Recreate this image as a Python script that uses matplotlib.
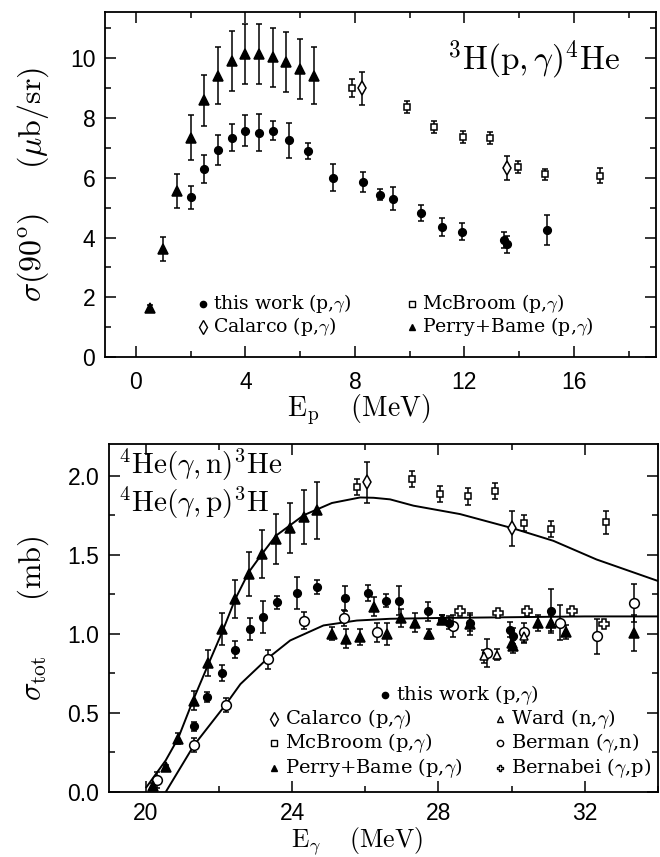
import matplotlib
matplotlib.use("Agg")
import matplotlib.pyplot as plt
from matplotlib.ticker import MultipleLocator, FormatStrFormatter

plt.rcParams['mathtext.fontset'] = 'cm'
plt.rcParams['font.family'] = 'DejaVu Serif'

# ---------------- top panel: 3H(p,g)4He, sigma(90 deg) vs Ep ----------------
tw_ep = [2.0, 2.5, 3.0, 3.5, 4.0, 4.5, 5.0, 5.6, 6.3, 7.2, 8.3, 8.9, 9.4, 10.4, 11.2, 11.9, 13.45, 13.55, 15.0]
tw_sig = [5.34, 6.29, 6.94, 7.34, 7.58, 7.5, 7.58, 7.25, 6.9, 6.0, 5.87, 5.44, 5.3, 4.82, 4.35, 4.2, 3.92, 3.77, 4.26]
tw_err = [0.4, 0.47, 0.5, 0.45, 0.52, 0.62, 0.32, 0.58, 0.26, 0.45, 0.33, 0.2, 0.38, 0.28, 0.3, 0.28, 0.28, 0.28, 0.5]

pb_ep = [0.5, 1.0, 1.5, 2.0, 2.5, 3.0, 3.5, 4.0, 4.5, 5.0, 5.5, 6.0, 6.5]
pb_sig = [1.65, 3.63, 5.56, 7.34, 8.6, 9.42, 9.92, 10.15, 10.15, 10.03, 9.87, 9.64, 9.42]
pb_err = [0.1, 0.4, 0.56, 0.75, 0.85, 0.95, 1.0, 1.0, 1.0, 1.0, 1.0, 1.0, 0.95]

mcb_ep = [7.9, 9.9, 10.9, 11.95, 12.95, 13.95, 14.95, 16.95]
mcb_sig = [9.01, 8.36, 7.7, 7.38, 7.33, 6.35, 6.11, 6.07]
mcb_err = [0.3, 0.2, 0.2, 0.2, 0.2, 0.2, 0.2, 0.25]

cal_ep = [8.25, 13.55]
cal_sig = [8.99, 6.34]
cal_err = [0.55, 0.4]

# ---------------- bottom panel: total cross section vs Egamma ----------------
tw_eg = [21.32, 21.68, 22.09, 22.45, 22.84, 23.2, 23.6, 24.14, 24.68, 25.44, 26.09, 26.57, 26.93,
         27.71, 28.09, 28.3, 28.86, 29.95, 30.05, 31.07]
tw_tot = [0.415, 0.6, 0.754, 0.9, 1.03, 1.105, 1.2, 1.26, 1.295, 1.225, 1.26, 1.21, 1.21,
          1.144, 1.09, 1.07, 1.07, 1.027, 0.985, 1.144]
tw_tot_err = [0.03, 0.03, 0.05, 0.055, 0.07, 0.1, 0.04, 0.1, 0.045, 0.08, 0.05, 0.04, 0.09,
              0.06, 0.03, 0.04, 0.05, 0.05, 0.05, 0.14]

pb_eg = [20.2, 20.55, 20.89, 21.32, 21.7, 22.09, 22.45, 22.82, 23.18, 23.56, 23.94, 24.32, 24.68,
         25.09, 25.48, 25.86, 26.23, 26.6, 26.98, 27.35, 27.75, 28.09, 28.85, 30.0, 30.05,
         30.73, 31.09, 31.48, 33.34]
pb_tot = [0.04, 0.158, 0.338, 0.578, 0.815, 1.03, 1.22, 1.38, 1.505, 1.6, 1.67, 1.74, 1.78,
          1.0, 0.97, 0.98, 1.17, 1.0, 1.1, 1.07, 1.0, 1.09, 1.06, 0.943, 0.92,
          1.07, 1.07, 1.013, 1.006]
pb_tot_err = [0.015, 0.015, 0.035, 0.058, 0.08, 0.1, 0.12, 0.14, 0.15, 0.16, 0.16, 0.17, 0.18,
              0.04, 0.06, 0.05, 0.06, 0.07, 0.06, 0.06, 0.03, 0.03, 0.07, 0.04, 0.04,
              0.05, 0.05, 0.045, 0.115]

mcb_eg = [25.77, 27.29, 28.05, 28.8, 29.56, 30.34, 31.07, 32.57]
mcb_tot = [1.926, 1.979, 1.884, 1.869, 1.905, 1.70, 1.662, 1.704]
mcb_tot_err = [0.05, 0.053, 0.05, 0.055, 0.05, 0.048, 0.052, 0.07]

cal_eg = [26.05, 30.02]
cal_tot = [1.958, 1.666]
cal_tot_err = [0.13, 0.11]

ward_eg = [29.25, 29.59, 30.35]
ward_tot = [0.858, 0.869, 0.985]
ward_tot_err = [0.04, 0.035, 0.04]

ber_eg = [20.32, 21.32, 22.2, 23.34, 24.34, 25.43, 26.32, 28.41, 29.32, 30.34, 31.32, 32.34, 33.34]
ber_tot = [0.078, 0.295, 0.55, 0.838, 1.084, 1.10, 1.01, 1.05, 0.88, 1.01, 1.07, 0.985, 1.192]
ber_tot_err = [0.05, 0.045, 0.045, 0.06, 0.055, 0.05, 0.06, 0.07, 0.09, 0.06, 0.11, 0.11, 0.12]

bnb_eg = [28.59, 29.62, 30.41, 31.64, 32.53]
bnb_tot = [1.144, 1.13, 1.144, 1.144, 1.06]

# theory curves
up_eg = [20.02, 20.55, 20.89, 21.29, 21.7, 22.09, 22.45, 22.82, 23.18, 23.56, 24.32, 25.09, 25.86,
         26.23, 26.68, 27.32, 28.59, 30.05, 31.14, 32.32, 34.0]
up_tot = [0.03, 0.2, 0.34, 0.576, 0.8, 1.01, 1.22, 1.39, 1.505, 1.62, 1.75, 1.827, 1.862,
          1.86, 1.85, 1.81, 1.757, 1.666, 1.588, 1.47, 1.334]
lo_eg = [20.55, 21.32, 22.18, 22.59, 23.32, 23.95, 24.86, 25.77, 26.68, 28.0, 30.0, 32.0, 34.0]
lo_tot = [0.0, 0.295, 0.55, 0.682, 0.842, 0.958, 1.053, 1.084, 1.095, 1.10, 1.105, 1.11, 1.11]

W = 660
H = 857
fig = plt.figure(figsize=(W / 100, H / 100), dpi=100)


def style_axes(ax, xpad=10):
    ax.tick_params(which='both', direction='in', top=True, right=True, width=1.1)
    ax.tick_params(which='major', length=8)
    ax.tick_params(which='minor', length=4.5)
    ax.tick_params(axis='x', pad=xpad)
    ax.tick_params(axis='y', pad=7)
    for lab in ax.get_xticklabels() + ax.get_yticklabels():
        lab.set_fontfamily('Liberation Sans')
        lab.set_fontsize(16.5)
    for s in ax.spines.values():
        s.set_linewidth(1.3)


def ebar(ax, x, y, e, marker, ms, filled=True, cap=2.2, lw=1.1):
    ax.errorbar(x, y, yerr=e, fmt=marker, ms=ms, color='black',
                mfc='black' if filled else 'white', mec='black', mew=1.1,
                ecolor='black', elinewidth=lw, capsize=cap, capthick=lw, zorder=3)


def legend_rows(ax, rows, dx, fs):
    for xm, ym, mk, fl, lab in rows:
        ax.plot([xm], [ym], marker=mk, ms=4.5 if mk != 'd' else 7, color='black',
                mfc='black' if fl else 'white', mew=1, transform=ax.transAxes)
        ax.text(xm + dx, ym, lab, transform=ax.transAxes, ha='left', va='center',
                fontsize=fs)


# ---- top ----
ax1 = fig.add_axes([105 / W, 1 - 357 / H, 551 / W, 345 / H])
ax1.set_xlim(-1.13, 19.0)
ax1.set_ylim(0, 11.55)
ax1.xaxis.set_major_locator(MultipleLocator(4))
ax1.xaxis.set_minor_locator(MultipleLocator(2))
ax1.yaxis.set_major_locator(MultipleLocator(2))
ax1.yaxis.set_minor_locator(MultipleLocator(1))

ebar(ax1, pb_ep, pb_sig, pb_err, '^', 6.5)
ebar(ax1, tw_ep, tw_sig, tw_err, 'o', 5.5)
ebar(ax1, mcb_ep, mcb_sig, mcb_err, 's', 5, filled=False)
ebar(ax1, cal_ep, cal_sig, cal_err, 'd', 7, filled=False)
style_axes(ax1)

ax1.text(0.935, 0.862, r'$^3{\rm H}({\rm p},\gamma)^4{\rm He}$', transform=ax1.transAxes,
         ha='right', va='center', fontsize=24)
ax1.set_ylabel(r'$\sigma(90^{\rm o})\quad\;\;(\mu{\rm b/sr})$', fontsize=23)
ax1.yaxis.set_label_coords(-0.098, 0.5)
ax1.set_xlabel(r'${\rm E_p}\quad\;{\rm (MeV)}$', fontsize=20)
ax1.xaxis.set_label_coords(0.46, -0.102)

legend_rows(ax1, [(0.178, 0.154, 'o', True, r'this work (p,$\gamma$)'),
                  (0.557, 0.154, 's', False, r'McBroom (p,$\gamma$)'),
                  (0.178, 0.088, 'd', False, r'Calarco (p,$\gamma$)'),
                  (0.557, 0.088, '^', True, r'Perry+Bame (p,$\gamma$)')], 0.018, 13.6)

# ---- bottom ----
ax2 = fig.add_axes([109 / W, 1 - 792 / H, 549 / W, 348 / H])
ax2.set_xlim(19.0, 34.0)
ax2.set_ylim(0, 2.2)
ax2.xaxis.set_major_locator(MultipleLocator(4))
ax2.xaxis.set_minor_locator(MultipleLocator(2))
ax2.yaxis.set_major_locator(MultipleLocator(0.5))
ax2.yaxis.set_minor_locator(MultipleLocator(0.25))
ax2.yaxis.set_major_formatter(FormatStrFormatter('%.1f'))

ax2.plot(up_eg, up_tot, color='black', lw=1.4, zorder=2)
ax2.plot(lo_eg, lo_tot, color='black', lw=1.4, zorder=2)

ebar(ax2, ber_eg, ber_tot, ber_tot_err, 'o', 7, filled=False)
ebar(ax2, ward_eg, ward_tot, ward_tot_err, '^', 6, filled=False)
ebar(ax2, pb_eg, pb_tot, pb_tot_err, '^', 6.5)
ebar(ax2, tw_eg, tw_tot, tw_tot_err, 'o', 5.5)
ebar(ax2, mcb_eg, mcb_tot, mcb_tot_err, 's', 5, filled=False)
ebar(ax2, cal_eg, cal_tot, cal_tot_err, 'd', 7, filled=False)
ax2.plot(bnb_eg, bnb_tot, 'P', ms=7.5, mfc='white', mec='black', mew=1.1, ls='none', zorder=3)
style_axes(ax2, xpad=7)

ax2.text(0.016, 0.885, '$^4{\\rm He}(\\gamma,{\\rm n})^3{\\rm He}$\n$^4{\\rm He}(\\gamma,{\\rm p})^3{\\rm H}$',
         transform=ax2.transAxes, ha='left', va='center', fontsize=21, linespacing=1.05)
ax2.set_ylabel(r'$\sigma_{\rm tot}\qquad({\rm mb})$', fontsize=22)
ax2.yaxis.set_label_coords(-0.105, 0.5)
ax2.set_xlabel(r'${\rm E_\gamma}\quad\;{\rm (MeV)}$', fontsize=18.5)
ax2.xaxis.set_label_coords(0.452, -0.096)

legend_rows(ax2, [(0.503, 0.279, 'o', True, r'this work (p,$\gamma$)'),
                  (0.300, 0.210, 'd', False, r'Calarco (p,$\gamma$)'),
                  (0.712, 0.210, '^', False, r'Ward (n,$\gamma$)'),
                  (0.300, 0.141, 's', False, r'McBroom (p,$\gamma$)'),
                  (0.712, 0.141, 'o', False, r'Berman ($\gamma$,n)'),
                  (0.300, 0.069, '^', True, r'Perry+Bame (p,$\gamma$)'),
                  (0.712, 0.069, 'P', False, r'Bernabei ($\gamma$,p)')], 0.02, 14.0)

fig.savefig('out.png', dpi=100)
